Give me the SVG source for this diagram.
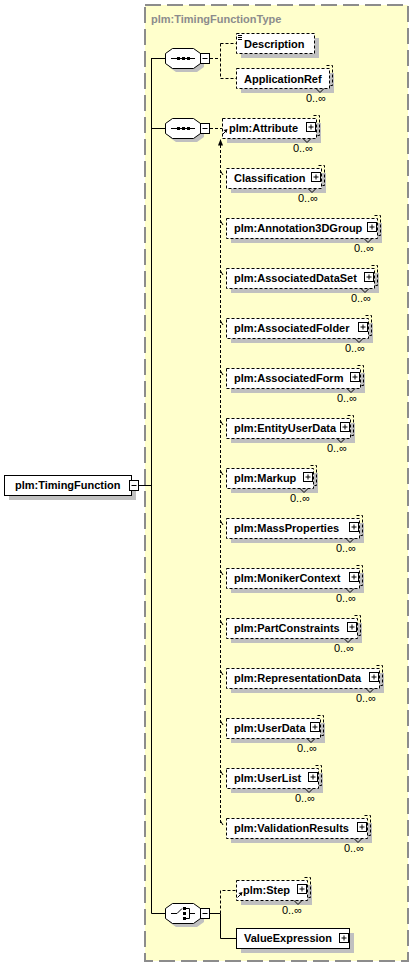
<svg xmlns="http://www.w3.org/2000/svg" width="413" height="966" viewBox="0 0 413 966">
<style>
.bg{fill:#ffffcc;stroke:#8c8c8c;stroke-width:2;stroke-dasharray:16,6}
.ttl{font-family:"Liberation Sans",Arial,sans-serif;font-size:11px;font-weight:bold;fill:#8c8c8c}
.sh{fill:#c0c0c0;stroke:none}
.nd{fill:#fff;stroke:#000;stroke-width:1}
.dsh{stroke-dasharray:3,2}
.ln{fill:none;stroke:#000;stroke-width:1}
.lbl{font-family:"Liberation Sans",Arial,sans-serif;font-size:11px;font-weight:bold;fill:#000}
.occ{font-family:"Liberation Sans",Arial,sans-serif;font-size:11px;fill:#000;text-anchor:end}
.blk{fill:#000;stroke:none}
</style>
<defs>
<g id="plus"><rect x="0.5" y="0.5" width="9" height="9" fill="#fff" stroke="#000"/><path d="M2.5 5H7.5M5 2.5V7.5" stroke="#000" fill="none"/></g>
<g id="minus"><rect x="0.5" y="0.5" width="9" height="10" fill="#fff" stroke="#000"/><path d="M2.5 5.5H7.5" stroke="#000" fill="none"/></g>
<polygon id="oct" points="7,0 28,0 35,5 35,15 28,20 7,20 0,15 0,5"/>
</defs>
<rect class="bg" x="145" y="5" width="263" height="956"/>
<text class="ttl" x="151" y="23">plm:TimingFunctionType</text>

<g id="connectors">
<path class="ln" d="M138.5 485.5H151.5M151.5 58V913.5M151.5 58.5H165M151.5 128.5H165M151.5 913.5H165"/>
<path class="ln dsh" d="M210 58.5H220.5M220.5 43.5V78.5M220.5 43.5H236M220.5 78.5H236"/>
<path class="ln dsh" d="M210 128.5H222"/>
<path class="ln dsh" d="M220.5 145V823"/>
<polygon class="blk" points="220.5,139 218,145.5 223,145.5"/>
<path class="ln" d="M220.5 171L223 175M220.5 221L223 225M220.5 271L223 275M220.5 321L223 325M220.5 371L223 375M220.5 421L223 425M220.5 471L223 475M220.5 521L223 525M220.5 571L223 575M220.5 621L223 625M220.5 671L223 675M220.5 721L223 725M220.5 771L223 775M220.5 821L223 825"/>
<path class="ln" d="M210 913.5H220.5V938.5H236"/>
<path class="ln dsh" d="M220.5 913.5V890.5H236"/>
</g>

<g id="TimingFunction">
<rect class="sh" x="9" y="480" width="127" height="20"/>
<rect class="nd" x="4.5" y="475.5" width="127" height="20"/>
<text class="lbl" x="15" y="489">plm:TimingFunction</text>
<use href="#minus" x="129" y="480"/>
</g>

<g id="seq1">
<use href="#oct" x="169" y="52" class="sh"/>
<use href="#oct" x="165.5" y="48.5" fill="#fff" stroke="#000"/>
<path class="ln" d="M171 58.5H195"/>
<rect class="blk" x="177" y="57" width="3" height="3"/><rect class="blk" x="182" y="57" width="3" height="3"/><rect class="blk" x="187" y="57" width="3" height="3"/>
<use href="#minus" x="200" y="53"/>
</g>

<g id="Description">
<rect class="sh" x="241" y="38" width="78" height="20"/>
<rect class="nd dsh" x="236.5" y="33.5" width="78" height="20"/>
<path class="ln" d="M238 35.5H242M238 37.5H242M238 39.5H242"/>
<text class="lbl" x="244" y="48">Description</text>
</g>

<g id="ApplicationRef">
<rect class="sh" x="241" y="73" width="93" height="20"/>
<polyline class="ln dsh" points="326.5,65.5 332.5,65.5 332.5,85.5 329.5,85.5"/>
<rect class="nd dsh" x="236.5" y="68.5" width="93" height="20"/>
<text class="lbl" x="244" y="83">ApplicationRef</text>
<polyline class="ln" points="316,88.5 320,92.5 324,88.5"/>
<text class="occ" x="326" y="102">0..∞</text>
</g>

<g id="seq2">
<use href="#oct" x="169" y="122" class="sh"/>
<use href="#oct" x="165.5" y="118.5" fill="#fff" stroke="#000"/>
<path class="ln" d="M171 128.5H195"/>
<rect class="blk" x="177" y="127" width="3" height="3"/><rect class="blk" x="182" y="127" width="3" height="3"/><rect class="blk" x="187" y="127" width="3" height="3"/>
<use href="#minus" x="200" y="123"/>
</g>

<g id="Attribute">
<rect class="sh" x="227" y="123" width="94" height="20"/>
<polyline class="ln dsh" points="313.5,115.5 319.5,115.5 319.5,135.5 316.5,135.5"/>
<rect class="nd dsh" x="222.5" y="118.5" width="94" height="20"/>
<path class="ln" d="M222.5 134.5L226 131"/><polygon class="blk" points="227.5,129 223.5,130 226.5,133"/>
<text class="lbl" x="229" y="132">plm:Attribute</text>
<use href="#plus" x="306" y="122"/>
<polyline class="ln" points="303,138.5 307,142.5 311,138.5"/>
<text class="occ" x="313" y="152">0..∞</text>
</g>

<g id="Classification">
<rect class="sh" x="231" y="173" width="95" height="20"/>
<polyline class="ln dsh" points="318.5,165.5 324.5,165.5 324.5,185.5 321.5,185.5"/>
<rect class="nd dsh" x="226.5" y="168.5" width="95" height="20"/>
<text class="lbl" x="234" y="182">Classification</text>
<use href="#plus" x="311" y="172"/>
<polyline class="ln" points="308,188.5 312,192.5 316,188.5"/>
<text class="occ" x="318" y="202">0..∞</text>
</g>

<g id="Annotation3DGroup">
<rect class="sh" x="231" y="223" width="151" height="20"/>
<polyline class="ln dsh" points="374.5,215.5 380.5,215.5 380.5,235.5 377.5,235.5"/>
<rect class="nd dsh" x="226.5" y="218.5" width="151" height="20"/>
<text class="lbl" x="234" y="232">plm:Annotation3DGroup</text>
<use href="#plus" x="367" y="222"/>
<polyline class="ln" points="364,238.5 368,242.5 372,238.5"/>
<text class="occ" x="374" y="252">0..∞</text>
</g>

<g id="AssociatedDataSet">
<rect class="sh" x="231" y="273" width="148" height="20"/>
<polyline class="ln dsh" points="371.5,265.5 377.5,265.5 377.5,285.5 374.5,285.5"/>
<rect class="nd dsh" x="226.5" y="268.5" width="148" height="20"/>
<text class="lbl" x="234" y="282">plm:AssociatedDataSet</text>
<use href="#plus" x="364" y="272"/>
<polyline class="ln" points="361,288.5 365,292.5 369,288.5"/>
<text class="occ" x="371" y="302">0..∞</text>
</g>

<g id="AssociatedFolder">
<rect class="sh" x="231" y="323" width="142" height="20"/>
<polyline class="ln dsh" points="365.5,315.5 371.5,315.5 371.5,335.5 368.5,335.5"/>
<rect class="nd dsh" x="226.5" y="318.5" width="142" height="20"/>
<text class="lbl" x="234" y="332">plm:AssociatedFolder</text>
<use href="#plus" x="358" y="322"/>
<polyline class="ln" points="355,338.5 359,342.5 363,338.5"/>
<text class="occ" x="365" y="352">0..∞</text>
</g>

<g id="AssociatedForm">
<rect class="sh" x="231" y="373" width="134" height="20"/>
<polyline class="ln dsh" points="357.5,365.5 363.5,365.5 363.5,385.5 360.5,385.5"/>
<rect class="nd dsh" x="226.5" y="368.5" width="134" height="20"/>
<text class="lbl" x="234" y="382">plm:AssociatedForm</text>
<use href="#plus" x="350" y="372"/>
<polyline class="ln" points="347,388.5 351,392.5 355,388.5"/>
<text class="occ" x="357" y="402">0..∞</text>
</g>

<g id="EntityUserData">
<rect class="sh" x="231" y="423" width="124" height="20"/>
<polyline class="ln dsh" points="347.5,415.5 353.5,415.5 353.5,435.5 350.5,435.5"/>
<rect class="nd dsh" x="226.5" y="418.5" width="124" height="20"/>
<text class="lbl" x="234" y="432">plm:EntityUserData</text>
<use href="#plus" x="340" y="422"/>
<polyline class="ln" points="337,438.5 341,442.5 345,438.5"/>
<text class="occ" x="347" y="452">0..∞</text>
</g>

<g id="Markup">
<rect class="sh" x="231" y="473" width="87" height="20"/>
<polyline class="ln dsh" points="310.5,465.5 316.5,465.5 316.5,485.5 313.5,485.5"/>
<rect class="nd dsh" x="226.5" y="468.5" width="87" height="20"/>
<text class="lbl" x="234" y="482">plm:Markup</text>
<use href="#plus" x="303" y="472"/>
<polyline class="ln" points="300,488.5 304,492.5 308,488.5"/>
<text class="occ" x="310" y="502">0..∞</text>
</g>

<g id="MassProperties">
<rect class="sh" x="231" y="523" width="133" height="20"/>
<polyline class="ln dsh" points="356.5,515.5 362.5,515.5 362.5,535.5 359.5,535.5"/>
<rect class="nd dsh" x="226.5" y="518.5" width="133" height="20"/>
<text class="lbl" x="234" y="532">plm:MassProperties</text>
<use href="#plus" x="349" y="522"/>
<polyline class="ln" points="346,538.5 350,542.5 354,538.5"/>
<text class="occ" x="356" y="552">0..∞</text>
</g>

<g id="MonikerContext">
<rect class="sh" x="231" y="573" width="133" height="20"/>
<polyline class="ln dsh" points="356.5,565.5 362.5,565.5 362.5,585.5 359.5,585.5"/>
<rect class="nd dsh" x="226.5" y="568.5" width="133" height="20"/>
<text class="lbl" x="234" y="582">plm:MonikerContext</text>
<use href="#plus" x="349" y="572"/>
<polyline class="ln" points="346,588.5 350,592.5 354,588.5"/>
<text class="occ" x="356" y="602">0..∞</text>
</g>

<g id="PartConstraints">
<rect class="sh" x="231" y="623" width="131" height="20"/>
<polyline class="ln dsh" points="354.5,615.5 360.5,615.5 360.5,635.5 357.5,635.5"/>
<rect class="nd dsh" x="226.5" y="618.5" width="131" height="20"/>
<text class="lbl" x="234" y="632">plm:PartConstraints</text>
<use href="#plus" x="347" y="622"/>
<polyline class="ln" points="344,638.5 348,642.5 352,638.5"/>
<text class="occ" x="354" y="652">0..∞</text>
</g>

<g id="RepresentationData">
<rect class="sh" x="231" y="673" width="153" height="20"/>
<polyline class="ln dsh" points="376.5,665.5 382.5,665.5 382.5,685.5 379.5,685.5"/>
<rect class="nd dsh" x="226.5" y="668.5" width="153" height="20"/>
<text class="lbl" x="234" y="682">plm:RepresentationData</text>
<use href="#plus" x="369" y="672"/>
<polyline class="ln" points="366,688.5 370,692.5 374,688.5"/>
<text class="occ" x="376" y="702">0..∞</text>
</g>

<g id="UserData">
<rect class="sh" x="231" y="723" width="94" height="20"/>
<polyline class="ln dsh" points="317.5,715.5 323.5,715.5 323.5,735.5 320.5,735.5"/>
<rect class="nd dsh" x="226.5" y="718.5" width="94" height="20"/>
<text class="lbl" x="234" y="732">plm:UserData</text>
<use href="#plus" x="310" y="722"/>
<polyline class="ln" points="307,738.5 311,742.5 315,738.5"/>
<text class="occ" x="317" y="752">0..∞</text>
</g>

<g id="UserList">
<rect class="sh" x="231" y="773" width="92" height="20"/>
<polyline class="ln dsh" points="315.5,765.5 321.5,765.5 321.5,785.5 318.5,785.5"/>
<rect class="nd dsh" x="226.5" y="768.5" width="92" height="20"/>
<text class="lbl" x="234" y="782">plm:UserList</text>
<use href="#plus" x="308" y="772"/>
<polyline class="ln" points="305,788.5 309,792.5 313,788.5"/>
<text class="occ" x="315" y="802">0..∞</text>
</g>

<g id="ValidationResults">
<rect class="sh" x="231" y="823" width="141" height="20"/>
<polyline class="ln dsh" points="364.5,815.5 370.5,815.5 370.5,835.5 367.5,835.5"/>
<rect class="nd dsh" x="226.5" y="818.5" width="141" height="20"/>
<text class="lbl" x="234" y="832">plm:ValidationResults</text>
<use href="#plus" x="357" y="822"/>
<polyline class="ln" points="354,838.5 358,842.5 362,838.5"/>
<text class="occ" x="364" y="852">0..∞</text>
</g>

<g id="choice">
<use href="#oct" x="169" y="907" class="sh"/>
<use href="#oct" x="165.5" y="903.5" fill="#fff" stroke="#000"/>
<path class="ln" d="M171 913.5H177L182 908.5"/>
<rect class="blk" x="183" y="907" width="3" height="3"/><rect class="blk" x="183" y="912" width="3" height="3"/><rect class="blk" x="183" y="917" width="3" height="3"/>
<path class="ln" d="M186 908.5H189.5V918.5H186M189.5 913.5H195"/>
<use href="#minus" x="200" y="908"/>
</g>

<g id="Step">
<rect class="sh" x="241" y="885" width="71" height="20"/>
<polyline class="ln dsh" points="304.5,877.5 310.5,877.5 310.5,897.5 307.5,897.5"/>
<rect class="nd dsh" x="236.5" y="880.5" width="71" height="20"/>
<path class="ln" d="M237.5 897.5L241 894"/><polygon class="blk" points="242.5,892 238.5,893 241.5,896"/>
<text class="lbl" x="243" y="894">plm:Step</text>
<use href="#plus" x="297" y="884"/>
<polyline class="ln" points="294,900.5 298,904.5 302,900.5"/>
<text class="occ" x="302" y="914">0..∞</text>
</g>

<g id="ValueExpression">
<rect class="sh" x="241" y="933" width="113" height="20"/>
<rect class="nd" x="236.5" y="928.5" width="113" height="20"/>
<text class="lbl" x="244" y="942">ValueExpression</text>
<use href="#plus" x="339" y="933"/>
</g>
</svg>
